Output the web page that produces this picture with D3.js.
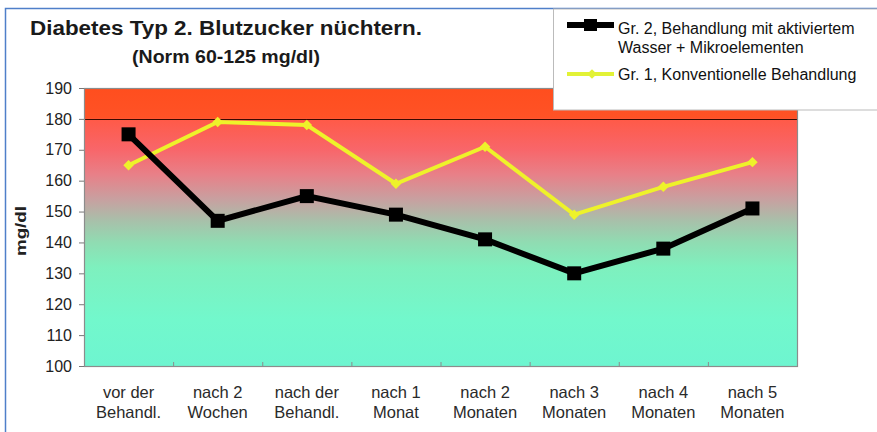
<!DOCTYPE html>
<html>
<head>
<meta charset="utf-8">
<script src="https://cdn.jsdelivr.net/npm/d3@7"></script>
<style>
  body { margin: 0; background: #fff; }
  text { font-family: "Liberation Sans", Arial, sans-serif; }
</style>
</head>
<body>
<script>
// data
var categories = ["vor der|Behandl.", "nach 2|Wochen", "nach der|Behandl.", "nach 1|Monat",
                  "nach 2|Monaten", "nach 3|Monaten", "nach 4|Monaten", "nach 5|Monaten"];
var group2 = [175, 147, 155, 149, 141, 130, 138, 151];   // aktiviertes Wasser
var group1 = [165, 179, 178, 159, 171, 149, 158, 166];   // konventionell
var yTicks = [100, 110, 120, 130, 140, 150, 160, 170, 180, 190];
var limit = 180;

var W = 877, H = 432;
var margin = {top: 88, right: 80, bottom: 66, left: 84},
    width = W - margin.left - margin.right,
    height = H - margin.top - margin.bottom;

var svg = d3.select("body").append("svg")
    .attr("width", W)
    .attr("height", H);

// outer frame
svg.append("rect")
    .attr("x", 5.5).attr("y", 8.5)
    .attr("width", W + 10).attr("height", H + 10)
    .attr("fill", "#fff")
    .attr("stroke", "#4f7fc9")
    .attr("stroke-width", 1.5);

var x = d3.scaleBand()
    .domain(categories)
    .range([0, width])
    .padding(0);
var y = d3.scaleLinear()
    .domain([100, 190])
    .range([height, 0]);

var g = svg.append("g")
    .attr("transform", "translate(" + margin.left + "," + margin.top + ")");

// background gradient
var grad = svg.append("defs").append("linearGradient")
    .attr("id", "bg")
    .attr("gradientUnits", "userSpaceOnUse")
    .attr("x1", 0).attr("x2", 0)
    .attr("y1", y(190)).attr("y2", y(100));

var stops = [
  [190, "#ff4e1e"], [180.3, "#ff5226"], [179.7, "#ff5a48"], [170, "#f8666a"],
  [162, "#e88088"], [154, "#c8a0a0"], [147, "#a8c0aa"], [140, "#90dcb2"],
  [132, "#7ef0be"], [115, "#72f8cc"], [100, "#6ef5d0"]
];
stops.forEach(function(s) {
  grad.append("stop")
      .attr("offset", (190 - s[0]) / 90)
      .attr("stop-color", s[1]);
});

g.append("rect")
    .attr("width", width)
    .attr("height", height)
    .attr("fill", "url(#bg)");

// 180 line
g.append("line")
    .attr("x1", 0).attr("x2", width)
    .attr("y1", Math.round(y(limit)) + 0.5).attr("y2", Math.round(y(limit)) + 0.5)
    .attr("stroke", "#3a0a00")
    .attr("stroke-width", 1.2);

// plot border
g.append("rect")
    .attr("x", 0.5).attr("y", 0.5)
    .attr("width", width).attr("height", height)
    .attr("fill", "none")
    .attr("stroke", "#8c8c8c")
    .attr("stroke-width", 1.2);

// y axis
var yAxis = g.append("g")
    .attr("class", "axisy")
    .call(d3.axisLeft(y).tickValues(yTicks).tickSize(5).tickPadding(7).tickFormat(d3.format("d")));
yAxis.select(".domain").remove();
yAxis.selectAll("line").attr("stroke", "#777");
yAxis.selectAll("text")
    .attr("fill", "#222")
    .style("font-size", "16px");

// x ticks at band boundaries
var bounds = categories.slice(1).map(function(c) { return x(c); });
g.selectAll(".xtick")
    .data(bounds)
    .enter().append("line")
    .attr("class", "xtick")
    .attr("x1", function(d) { return d + 0.5; })
    .attr("x2", function(d) { return d + 0.5; })
    .attr("y1", height)
    .attr("y2", height - 4)
    .attr("stroke", "#8c8c8c");

// x labels
var xl = g.selectAll(".xlab")
    .data(categories)
    .enter().append("text")
    .attr("class", "xlab")
    .attr("text-anchor", "middle")
    .attr("fill", "#2a2a2a")
    .style("font-size", "16.5px");
xl.each(function(d) {
  var parts = d.split("|");
  var t = d3.select(this);
  parts.forEach(function(p, i) {
    t.append("tspan")
        .attr("x", x(d) + x.bandwidth() / 2)
        .attr("y", height + 32 + i * 20)
        .text(p);
  });
});

// axis title
svg.append("text")
    .attr("transform", "translate(26,231) rotate(-90)")
    .attr("text-anchor", "middle")
    .attr("fill", "#222")
    .style("font-size", "15px")
    .style("font-weight", "bold")
    .attr("textLength", 50)
    .attr("lengthAdjust", "spacingAndGlyphs")
    .text("mg/dl");

// lines
var cx = function(d, i) { return x(categories[i]) + x.bandwidth() / 2; };
var line = d3.line()
    .x(cx)
    .y(function(d) { return y(d); });

g.append("path")
    .datum(group1)
    .attr("fill", "none")
    .attr("stroke", "#eef22a")
    .attr("stroke-width", 4)
    .attr("d", line);
g.selectAll(".dia")
    .data(group1)
    .enter().append("path")
    .attr("class", "dia")
    .attr("transform", function(d, i) { return "translate(" + cx(d, i) + "," + y(d) + ")"; })
    .attr("d", d3.symbol().type(d3.symbolDiamond2).size(70))
    .attr("fill", "#eef22a");

g.append("path")
    .datum(group2)
    .attr("fill", "none")
    .attr("stroke", "#000")
    .attr("stroke-width", 6)
    .attr("d", line);
g.selectAll(".sq")
    .data(group2)
    .enter().append("rect")
    .attr("class", "sq")
    .attr("x", function(d, i) { return cx(d, i) - 7; })
    .attr("y", function(d) { return y(d) - 7; })
    .attr("width", 14)
    .attr("height", 14)
    .attr("fill", "#000");

// legend box
var lg = svg.append("g");
lg.append("rect")
    .attr("x", 553.5).attr("y", 9)
    .attr("width", 330).attr("height", 101)
    .attr("fill", "#fff")
    .attr("stroke", "#bbb")
    .attr("stroke-width", 1);
lg.append("line")
    .attr("x1", 567).attr("x2", 614).attr("y1", 25).attr("y2", 25)
    .attr("stroke", "#000").attr("stroke-width", 6);
lg.append("rect")
    .attr("x", 584).attr("y", 19).attr("width", 13).attr("height", 12)
    .attr("fill", "#000");
lg.append("line")
    .attr("x1", 567).attr("x2", 614).attr("y1", 74).attr("y2", 74)
    .attr("stroke", "#e2f236").attr("stroke-width", 4);
lg.append("path")
    .attr("transform", "translate(592,74)")
    .attr("d", d3.symbol().type(d3.symbolDiamond2).size(60))
    .attr("fill", "#e2f236");
var legendText = [["Gr. 2, Behandlung mit aktiviertem", 34], ["Wasser + Mikroelementen", 53],
                  ["Gr. 1, Konventionelle Behandlung", 80]];
lg.selectAll(".lt")
    .data(legendText)
    .enter().append("text")
    .attr("x", 618)
    .attr("y", function(d) { return d[1]; })
    .attr("fill", "#111")
    .style("font-size", "16px")
    .text(function(d) { return d[0]; });

// titles
svg.append("text")
    .attr("x", 226).attr("y", 35)
    .attr("text-anchor", "middle")
    .attr("fill", "#1a1a1a")
    .style("font-size", "20px")
    .style("font-weight", "bold")
    .attr("textLength", 392)
    .attr("lengthAdjust", "spacingAndGlyphs")
    .text("Diabetes Typ 2. Blutzucker nüchtern.");
svg.append("text")
    .attr("x", 226).attr("y", 63)
    .attr("text-anchor", "middle")
    .attr("fill", "#1a1a1a")
    .style("font-size", "17.5px")
    .style("font-weight", "bold")
    .attr("textLength", 188)
    .attr("lengthAdjust", "spacingAndGlyphs")
    .text("(Norm 60-125 mg/dl)");
</script>
</body>
</html>
